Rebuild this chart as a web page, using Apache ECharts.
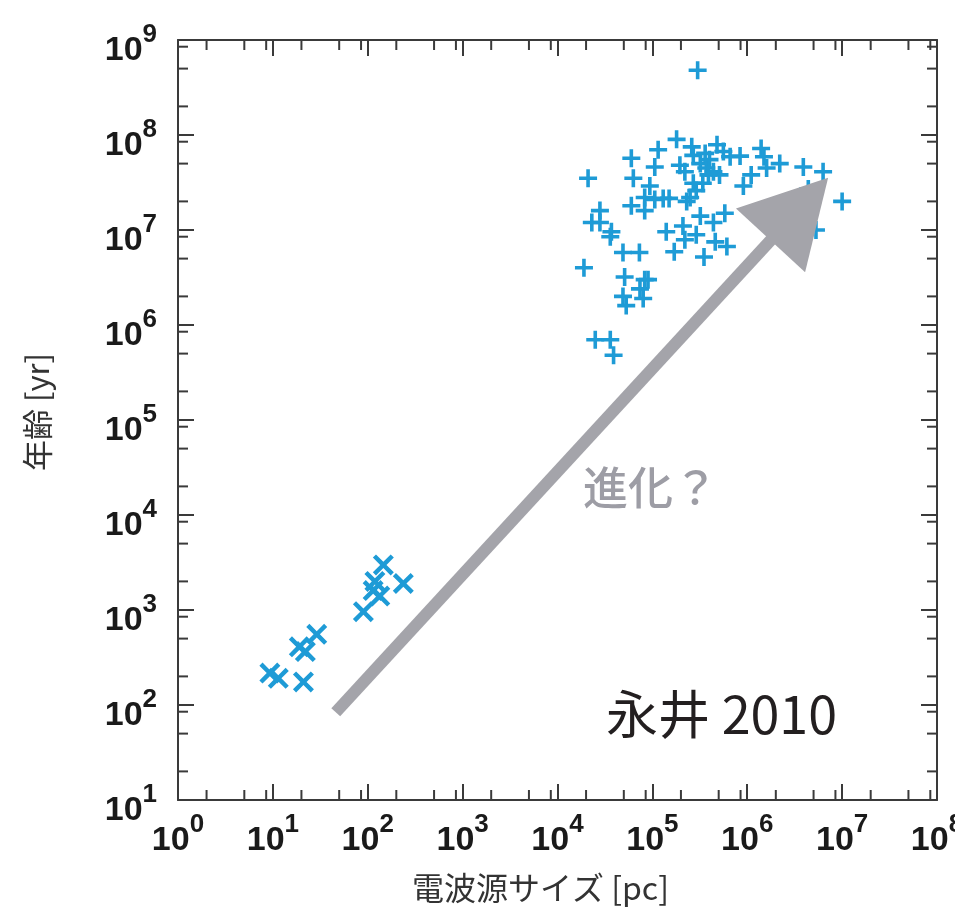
<!DOCTYPE html>
<html>
<head>
<meta charset="utf-8">
<script src="https://cdn.jsdelivr.net/npm/echarts@6/dist/echarts.min.js"></script>
<style>
html, body { margin: 0; padding: 0; background: #ffffff; }
#chart { width: 955px; height: 907px; }
</style>
</head>
<body>
<div id="chart"></div>
<script>
// Large radio sources: [size in pc, age in yr]
const largeSources = [
  [3.0e5, 4.8e8],
  [1.8e5, 9.0e7], [2.6e5, 7.5e7], [4.8e5, 7.9e7], [5.6e5, 6.7e7], [8.4e5, 6.0e7],
  [1.4e6, 7.2e7], [1.5e6, 5.9e7], [2.2e6, 5.0e7], [3.9e6, 4.6e7], [6.3e6, 4.1e7],
  [6.0e4, 5.7e7], [1.15e5, 7.0e7], [1.06e5, 4.6e7], [2.1e4, 3.5e7], [6.3e4, 3.5e7],
  [9.4e4, 2.9e7], [8.3e4, 2.2e7], [1.3e5, 2.15e7], [1.5e5, 2.15e7], [2.3e5, 2.0e7],
  [6.0e4, 1.8e7], [8.3e4, 1.6e7], [2.8e4, 1.6e7], [2.3e4, 1.2e7], [2.8e4, 1.2e7],
  [3.7e4, 9.6e6], [3.6e4, 8.5e6], [4.9e4, 5.8e6], [7.3e4, 5.8e6], [1.4e5, 9.6e6],
  [2.1e5, 1.1e7], [2.2e5, 7.9e6], [2.9e5, 8.9e6], [3.2e5, 1.4e7], [4.4e5, 1.2e7],
  [5.8e5, 1.5e7], [4.6e5, 7.5e6], [6.1e5, 6.7e6], [1.7e5, 5.9e6], [3.5e5, 5.2e6],
  [1.9e4, 4.0e6], [5.1e4, 3.2e6], [8.3e4, 3.0e6], [7.4e4, 2.4e6], [9.0e4, 3.0e6],
  [4.9e4, 2.0e6], [8.0e4, 1.9e6], [5.3e4, 1.6e6], [2.5e4, 7.0e5], [3.6e4, 7.0e5],
  [3.9e4, 4.8e5], [9.1e5, 2.9e7], [1.1e6, 3.8e7], [1.6e6, 4.5e7], [4.4e6, 2.7e7],
  [2.9e6, 1.2e7], [5.3e6, 1.0e7], [1.0e7, 2.0e7],
  [1.95e5, 4.8e7], [2.2e5, 4.1e7], [3.2e5, 5.0e7], [3.7e5, 4.5e7], [4.0e5, 5.5e7],
  [4.4e5, 4.1e7], [5.1e5, 3.8e7], [2.7e5, 3.1e7], [2.9e5, 2.6e7], [2.5e5, 2.2e7],
  [3.4e5, 3.1e7], [3.9e5, 3.8e7], [2.7e5, 6.1e7], [3.6e5, 6.4e7], [6.6e5, 5.9e7],
  [1.06e5, 2.1e7]
];

// Compact sources: [size in pc, age in yr]
const compactSources = [
  [9.3, 217], [11.4, 191], [21, 175], [19, 410], [22, 365], [29, 555],
  [90, 960], [114, 1600], [134, 1400], [119, 2000], [146, 2980], [237, 1900]
];

// Evolution arrow: tail and arrow-head centre, in data units
const evolutionArrow = [[46, 84], [3.54e6, 1.66e7]];

const xRange = [1, 1e8];
const yRange = [10, 1e9];
const minorFactors = [0.85, 2, 5];

const BLUE = '#1e9bd6';
const ARROW_GRAY = '#a4a4aa';
const AXIS_COLOR = '#3a3a3a';

const plusPath = 'path://M8,0H12V8H20V12H12V20H8V12H0V8H8Z';
const crossPath = 'path://M0,3L3,0L10,7L17,0L20,3L13,10L20,17L17,20L10,13L3,20L0,17L7,10Z';

function powerLabel(v) {
  const e = Math.round(Math.log10(v));
  return '{b|10}{s|' + e + '}';
}

const labelRich = {
  b: { fontSize: 34, fontWeight: 'bold', fontFamily: 'Liberation Sans', color: '#1a1a1a',
       lineHeight: 46, verticalAlign: 'bottom' },
  s: { fontSize: 26, fontWeight: 'bold', fontFamily: 'Liberation Sans', color: '#1a1a1a',
       lineHeight: 14, verticalAlign: 'top' }
};

const axisLineStyle = { show: true, lineStyle: { color: AXIS_COLOR, width: 2 } };
const majorTick = { show: true, inside: true, length: 16, lineStyle: { color: AXIS_COLOR, width: 2 } };

const chart = echarts.init(document.getElementById('chart'), null, { renderer: 'canvas' });

chart.setOption({
  backgroundColor: '#ffffff',
  animation: false,
  grid: { left: 178, right: 18, top: 40, bottom: 107, containLabel: false, outerBoundsMode: 'none' },
  xAxis: [{
    type: 'log', logBase: 10, min: xRange[0], max: xRange[1], interval: 1,
    position: 'bottom',
    axisLine: axisLineStyle, axisTick: majorTick, splitLine: { show: false },
    axisLabel: { formatter: powerLabel, rich: labelRich, margin: 12 },
    name: '電波源サイズ [pc]', nameLocation: 'middle', nameGap: 72,
    nameTextStyle: { fontFamily: 'Noto Sans CJK JP', fontSize: 32, color: '#333333', padding: [0, 34, 0, 0] }
  }, {
    type: 'log', logBase: 10, min: xRange[0], max: xRange[1], interval: 1,
    position: 'top',
    axisLine: axisLineStyle, axisTick: majorTick, splitLine: { show: false },
    axisLabel: { show: false }
  }],
  yAxis: [{
    type: 'log', logBase: 10, min: yRange[0], max: yRange[1], interval: 1,
    position: 'left',
    axisLine: axisLineStyle, axisTick: majorTick, splitLine: { show: false },
    axisLabel: { formatter: powerLabel, rich: labelRich, margin: 21, padding: [10, 0, 0, 0] },
    name: '年齢 [yr]', nameLocation: 'middle', nameGap: 125, nameRotate: 90,
    nameTextStyle: { fontFamily: 'Noto Sans CJK JP', fontSize: 31, color: '#333333', padding: [0, 0, 0, 16] }
  }, {
    type: 'log', logBase: 10, min: yRange[0], max: yRange[1], interval: 1,
    position: 'right',
    axisLine: axisLineStyle, axisTick: majorTick, splitLine: { show: false },
    axisLabel: { show: false }
  }],
  series: [{
    name: 'evolution',
    type: 'scatter',
    data: [],
    z: 1,
    silent: true,
    markLine: {
      silent: true,
      symbol: ['none', 'triangle'],
      symbolSize: [94, 85],
      label: { show: false },
      lineStyle: { color: ARROW_GRAY, width: 12, type: 'solid', opacity: 1 },
      itemStyle: { color: ARROW_GRAY },
      data: [[{ coord: evolutionArrow[0] }, { coord: evolutionArrow[1] }]]
    }
  }, {
    name: 'compact',
    type: 'scatter',
    data: compactSources,
    symbol: crossPath,
    symbolSize: 21,
    itemStyle: { color: BLUE, opacity: 1 },
    z: 3
  }, {
    name: 'large',
    type: 'scatter',
    data: largeSources,
    symbol: plusPath,
    symbolSize: 18,
    itemStyle: { color: BLUE, opacity: 1 },
    z: 3
  }]
});

// Minor ticks at 2 and 5 of each decade (and a short one below each power), on all four sides
function minorTicks() {
  const lines = [];
  const tickStyle = { stroke: AXIS_COLOR, lineWidth: 2 };
  const x0 = chart.convertToPixel({ xAxisIndex: 0 }, xRange[0]);
  const x1 = chart.convertToPixel({ xAxisIndex: 0 }, xRange[1]);
  const yB = chart.convertToPixel({ yAxisIndex: 0 }, yRange[0]);
  const yT = chart.convertToPixel({ yAxisIndex: 0 }, yRange[1]);
  const len = 10;
  for (let e = 0; e <= 8; e++) {
    minorFactors.forEach(function (f) {
      const v = f * Math.pow(10, e);
      if (v <= xRange[0] || v >= xRange[1]) return;
      const px = chart.convertToPixel({ xAxisIndex: 0 }, v);
      lines.push({ type: 'line', silent: true, shape: { x1: px, y1: yB, x2: px, y2: yB - len }, style: tickStyle });
      lines.push({ type: 'line', silent: true, shape: { x1: px, y1: yT, x2: px, y2: yT + len }, style: tickStyle });
    });
  }
  for (let e = 1; e <= 9; e++) {
    minorFactors.forEach(function (f) {
      const v = f * Math.pow(10, e);
      if (v <= yRange[0] || v >= yRange[1]) return;
      const py = chart.convertToPixel({ yAxisIndex: 0 }, v);
      lines.push({ type: 'line', silent: true, shape: { x1: x0, y1: py, x2: x0 + len, y2: py }, style: tickStyle });
      lines.push({ type: 'line', silent: true, shape: { x1: x1, y1: py, x2: x1 - len, y2: py }, style: tickStyle });
    });
  }
  return lines;
}

chart.setOption({
  graphic: [{
    id: 'minor-ticks', type: 'group', silent: true, z: 5,
    children: minorTicks()
  }, {
    id: 'evolution-label', type: 'text', z: 10,
    style: { text: '進化？', x: 583, y: 488, fontFamily: 'Noto Sans CJK JP', fontSize: 45,
             fontWeight: 500, fill: '#9d9da5', verticalAlign: 'middle', align: 'left' }
  }, {
    id: 'citation', type: 'text', z: 10,
    style: { text: '永井 2010', x: 606, y: 714, fontFamily: 'Noto Sans CJK JP', fontSize: 52,
             fontWeight: 'normal', fill: '#231f20', verticalAlign: 'middle', align: 'left' }
  }]
});
</script>
</body>
</html>
